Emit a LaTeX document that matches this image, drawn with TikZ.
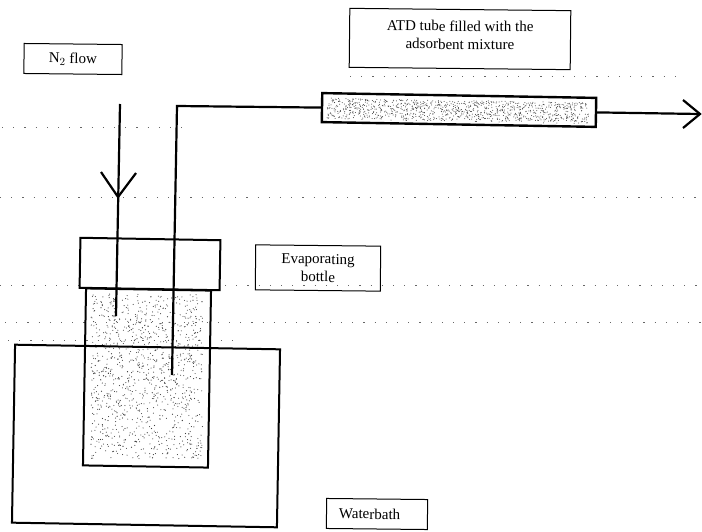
\documentclass[tikz,border=0pt]{standalone}
\usepackage{fontspec}
\setmainfont{Liberation Serif}
\tikzset{
    labelbox/.style={draw, line width=1pt, rotate=-0.6, align=center, inner sep=0pt, font=\fontsize{15}{18}\selectfont},
    part/.style={draw, line width=2pt, rotate=-1, inner sep=0pt},
    speck/.style={black!75},
    pipe/.style={line width=2.2pt},
    scannoise/.style={black!60, line width=0.8pt, dash pattern=on 1.2pt off 10pt},
}
\begin{document}
\begin{tikzpicture}[x=1pt, y=-1pt]
    \useasboundingbox (0,0) rectangle (702,532);
    \pgfmathsetseed{11}

    % Scan traces
    \draw[scannoise] (350,76) -- (680,76);
    \draw[scannoise] (2,127) -- (192,127);
    \draw[scannoise] (0,197) -- (702,197);
    \draw[scannoise] (0,285) -- (80,285);
    \draw[scannoise] (225,285) -- (702,285);
    \draw[scannoise] (5,322) -- (702,322);
    \draw[scannoise] (8,340) -- (236,340);

    % Stippling of bottle and tube
    \foreach \i in {1,...,1100} {
        \fill[speck] ({91+112*rnd},{294+165*rnd}) circle (0.55pt);
    }
    \foreach \i in {1,...,1000} {
        \pgfmathsetmacro{\speckx}{327+262*rnd}
        \fill[speck] (\speckx,{98+(\speckx-327)*0.0175+21*rnd}) circle (0.5pt);
    }

    % Bottle and bath
    \node[part, minimum width=125pt, minimum height=177pt] (bottle) at (147,378) {};
    \node[part, minimum width=265pt, minimum height=178pt] (bath) at (146,436) {};
    \node[part, minimum width=140pt, minimum height=50pt] (cap) at (150,264) {};

    % Tube
    \node[part, line width=2.4pt, minimum width=274pt, minimum height=29pt] (atdtube) at (459,110) {};

    % Labels
    \node[labelbox, minimum width=98pt, minimum height=30pt] (flowlabel) at (73,59) {N$_2$ flow};
    \node[labelbox, minimum width=221pt, minimum height=59pt, text depth=8pt] (tubelabel) at (460,39) {ATD tube filled with the\\adsorbent mixture};
    \node[labelbox, minimum width=125pt, minimum height=45pt] (bottlelabel) at (318,268) {Evaporating\\bottle};
    \node[labelbox, minimum width=101pt, minimum height=30pt, text width=76pt, align=left] (bathlabel) at (377,514) {Waterbath};

    % Gas inlet
    \coordinate (inlettop) at (120,104);
    \coordinate (inletend) at (116,316);
    \coordinate (inlettip) at (118,197);
    \coordinate (inletleft) at (101,172);
    \coordinate (inletright) at (136,173);
    \draw[pipe] (inlettop) -- (inletend);
    \draw[pipe] (inletleft) -- (inlettip) -- (inletright);

    % Gas outlet
    \coordinate (outletend) at (172,375);
    \coordinate (outletcorner) at (177,106);
    \coordinate (exittip) at (700,114);
    \coordinate (exittop) at (683,100);
    \coordinate (exitbottom) at (683,128);
    \draw[pipe] (outletend) -- (outletcorner) -- (atdtube.west);
    \draw[pipe] (atdtube.east) -- (exittip);
    \draw[pipe] (exittop) -- (exittip) -- (exitbottom);
\end{tikzpicture}
\end{document}
